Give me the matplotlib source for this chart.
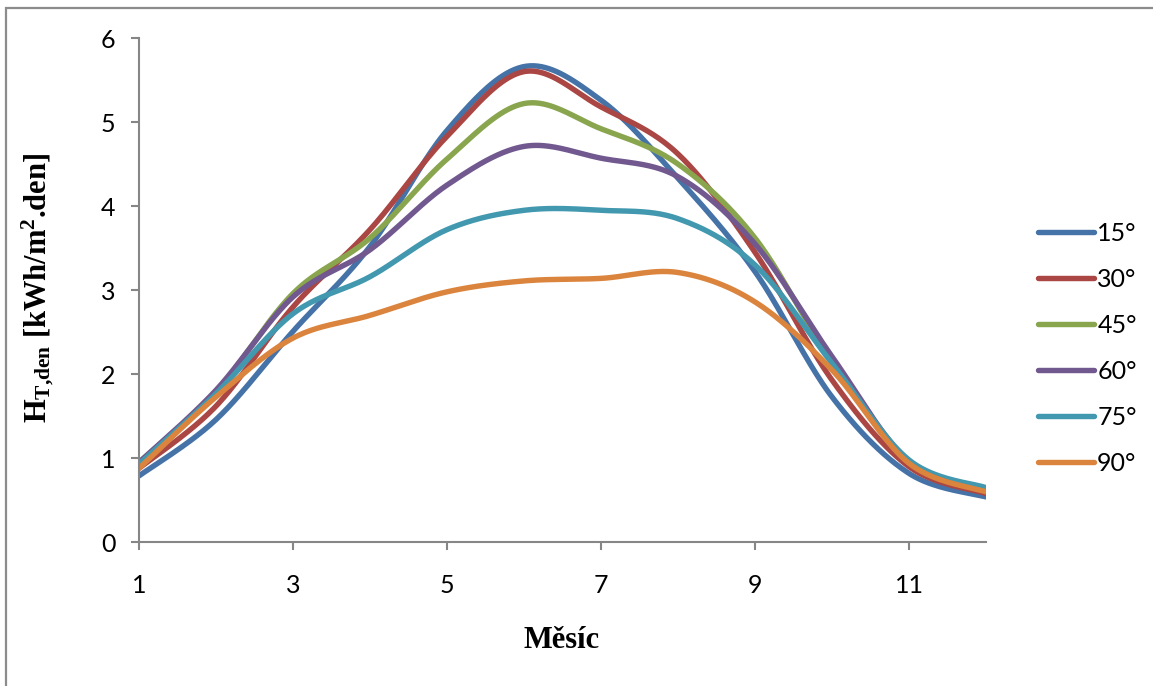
import numpy as np
import matplotlib
matplotlib.use("Agg")
import matplotlib.pyplot as plt
from matplotlib.patches import Rectangle

# data (daily irradiation on tilted plane)
months = [1, 2, 3, 4, 5, 6, 7, 8, 9, 10, 11, 12]
h15 = [0.79, 1.46, 2.51, 3.52, 4.90, 5.66, 5.26, 4.33, 3.22, 1.73, 0.82, 0.54]
h30 = [0.88, 1.62, 2.80, 3.72, 4.83, 5.60, 5.18, 4.62, 3.45, 1.93, 0.90, 0.58]
h45 = [0.95, 1.79, 2.96, 3.62, 4.56, 5.22, 4.92, 4.50, 3.62, 2.15, 0.96, 0.63]
h60 = [0.95, 1.81, 2.92, 3.48, 4.25, 4.71, 4.57, 4.35, 3.55, 2.21, 0.96, 0.63]
h75 = [0.93, 1.77, 2.72, 3.16, 3.72, 3.95, 3.95, 3.85, 3.30, 2.13, 0.98, 0.65]
h90 = [0.88, 1.73, 2.43, 2.70, 2.98, 3.11, 3.14, 3.21, 2.86, 2.05, 0.94, 0.60]
labels = ["15°", "30°", "45°", "60°", "75°", "90°"]
colors = ["#4572A7", "#AA4643", "#89A54E", "#71588F", "#4198AF", "#DB843D"]


def smooth(x, y, n=40):
    # catmull-rom, like excel's smoothed line
    x = np.asarray(x, float)
    y = np.asarray(y, float)
    xs, ys = [], []
    for i in range(len(x) - 1):
        i0 = max(i - 1, 0)
        i3 = min(i + 2, len(x) - 1)
        t = np.linspace(0, 1, n, endpoint=(i == len(x) - 2))
        for arr, out in ((x, xs), (y, ys)):
            p0, p1, p2, p3 = arr[i0], arr[i], arr[i + 1], arr[i3]
            c1 = p1 + (p2 - p0) / 6
            c2 = p2 - (p3 - p1) / 6
            out.append((1 - t) ** 3 * p1 + 3 * (1 - t) ** 2 * t * c1
                       + 3 * (1 - t) * t ** 2 * c2 + t ** 3 * p2)
    return np.concatenate(xs), np.concatenate(ys)


plt.rcParams["font.family"] = ["Lato", "DejaVu Sans"]
plt.rcParams["mathtext.fontset"] = "custom"
plt.rcParams["mathtext.rm"] = "Liberation Serif:bold"
plt.rcParams["mathtext.it"] = "Liberation Serif:bold"
plt.rcParams["mathtext.bf"] = "Liberation Serif:bold"

fig = plt.figure(figsize=(11.53, 6.86), dpi=100)
ax = fig.add_axes([139 / 1153, 1 - 542.3 / 686, (986 - 139) / 1153, (542.3 - 38) / 686])

for vals, lab, col in zip([h15, h30, h45, h60, h75, h90], labels, colors):
    sx, sy = smooth(months, vals)
    ax.plot(sx, sy, color=col, lw=3.9, label=lab, solid_capstyle="round")

ax.set_xlim(1, 12)
ax.set_ylim(0, 6)
ax.set_xticks([1, 3, 5, 7, 9, 11])
ax.set_yticks(range(7))
for s in ["top", "right"]:
    ax.spines[s].set_visible(False)
for s in ["left", "bottom"]:
    ax.spines[s].set_color("#868686")
    ax.spines[s].set_linewidth(1.5)
ax.tick_params(axis="x", direction="out", length=6, width=1.5, color="#868686",
               labelsize=18, pad=17)
ax.tick_params(axis="y", direction="out", length=6, width=1.5, color="#868686",
               labelsize=18, pad=11)

fig.text(562 / 1153, 1 - 640 / 686, "Měsíc", family="Liberation Serif",
         weight="bold", fontsize=22, ha="center", va="center")
fig.text(38 / 1153, 1 - 288 / 686, r"H$_{\mathrm{T{,}den}}$ [kWh/m$^{2}$.den]",
         family="Liberation Serif", weight="bold",
         fontsize=22, rotation=90, ha="center", va="center")

fig.legend(loc="center left", bbox_to_anchor=(1038 / 1153, 1 - 348.5 / 686),
           frameon=False, fontsize=18, handlelength=2.25, handletextpad=0.12,
           labelspacing=0.92, borderpad=0, borderaxespad=0)

# outer chart frame (cut off at right and bottom)
fig.patches.append(Rectangle((6 / 1153, -0.1), 1.2, 1 - 8 / 686 + 0.1,
                             transform=fig.transFigure, fill=False,
                             edgecolor="#8c8c8c", lw=1.6))

fig.savefig("out.png", dpi=100)
